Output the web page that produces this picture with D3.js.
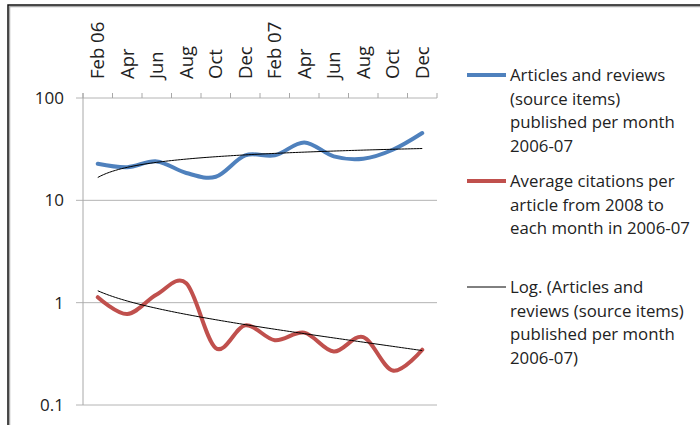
<!DOCTYPE html>
<html>
<head>
<meta charset="utf-8">
<script src="https://cdn.jsdelivr.net/npm/d3@7"></script>
<style>
  body { margin: 0; background: #fff; }
  text { font-family: "Open Sans", "Noto Sans", sans-serif; fill: #222; }
</style>
</head>
<body>
<div id="chart"></div>
<script>
var width = 700,
  height = 425;

// bimonthly categories, 2006-07
var months = ["Feb 06", "Apr", "Jun", "Aug", "Oct", "Dec", "Feb 07", "Apr", "Jun", "Aug", "Oct", "Dec"];
var articles = [22.8, 21.1, 24, 18.5, 17, 27.5, 27.5, 36.8, 26.9, 25.5, 31.2, 45.5];
var citations = [1.13, 0.774, 1.2, 1.55, 0.36, 0.6, 0.43, 0.51, 0.333, 0.461, 0.217, 0.347];
var yTicks = [0.1, 1, 10, 100];

var legendItems = [
  { color: "#4f81bd", w: 4, lines: ["Articles and reviews", "(source items)", "published per month", "2006-07"] },
  { color: "#c0504d", w: 4, lines: ["Average citations per", "article from 2008 to", "each month in 2006-07"] },
  { color: "#000", w: 1, lines: ["Log. (Articles and", "reviews (source items)", "published per month", "2006-07)"] }
];

var svg = d3.select("#chart").append("svg")
  .attr("width", width)
  .attr("height", height);

svg.append("rect")
  .attr("width", width)
  .attr("height", height)
  .attr("fill", "#fff");

// chart-area frame (only top and left edges show)
svg.append("path")
  .attr("d", "M9.5,425V6.5H700")
  .attr("fill", "none")
  .attr("stroke", "#aaa")
  .attr("stroke-width", 1.5);
svg.append("path")
  .attr("d", "M8,425V5H700")
  .attr("fill", "none")
  .attr("stroke", "#111")
  .attr("stroke-width", 1.5);

var x = d3.scaleBand()
  .domain(d3.range(months.length))
  .range([83, 437]);

var y = d3.scaleLog()
  .domain([0.1, 100])
  .range([405, 98]);

var cx = function (i) { return x(i) + x.bandwidth() / 2; };

// gridlines
svg.append("g")
  .selectAll("line")
  .data(yTicks)
  .enter().append("line")
    .attr("x1", 76)
    .attr("x2", 437)
    .attr("y1", function (d) { return y(d); })
    .attr("y2", function (d) { return y(d); })
    .attr("stroke", "#b4b4b4")
    .attr("stroke-width", 1);

// vertical axis line
svg.append("line")
  .attr("x1", 83).attr("x2", 83)
  .attr("y1", 93).attr("y2", 405)
  .attr("stroke", "#a8a8a8");

// category ticks, pointing up from the top axis
svg.append("g")
  .selectAll("line")
  .data(d3.range(months.length + 1))
  .enter().append("line")
    .attr("x1", function (i) { return x.step() * i + 83; })
    .attr("x2", function (i) { return x.step() * i + 83; })
    .attr("y1", 93)
    .attr("y2", 98)
    .attr("stroke", "#a8a8a8");

// y tick labels
svg.append("g")
  .selectAll("text")
  .data(yTicks)
  .enter().append("text")
    .attr("x", 64)
    .attr("y", function (d) { return y(d); })
    .attr("dy", "0.35em")
    .attr("text-anchor", "end")
    .style("font-size", "17px")
    .text(function (d) { return d; });

// rotated month labels
svg.append("g")
  .selectAll("text")
  .data(months)
  .enter().append("text")
    .attr("transform", function (d, i) { return "translate(" + cx(i) + ",79) rotate(-90)"; })
    .attr("dy", "0.35em")
    .attr("text-anchor", "start")
    .style("font-size", "18.5px")
    .text(function (d) { return d; });

// logarithmic trendlines, y = a*ln(n) + b
function logFit(vals) {
  var L = vals.map(function (v, i) { return Math.log(i + 1); });
  var lm = d3.mean(L), vm = d3.mean(vals);
  var sxy = d3.sum(vals, function (v, i) { return (L[i] - lm) * (v - vm); });
  var sxx = d3.sum(L, function (l) { return (l - lm) * (l - lm); });
  var a = sxy / sxx;
  return { a: a, b: vm - a * lm };
}

var nx = d3.scaleLinear().domain([1, months.length]).range([cx(0), cx(months.length - 1)]);

var series = [
  { vals: articles, color: "#4f81bd" },
  { vals: citations, color: "#c0504d" }
];

var smooth = d3.line()
  .x(function (d, i) { return cx(i); })
  .y(function (d) { return y(d); })
  .curve(d3.curveCardinal.tension(0));

series.forEach(function (s) {
  svg.append("path")
    .datum(s.vals)
    .attr("d", smooth)
    .attr("fill", "none")
    .attr("stroke", s.color)
    .attr("stroke-width", 4)
    .attr("stroke-linecap", "round");
});

series.forEach(function (s) {
  var f = logFit(s.vals);
  var pts = d3.range(1, months.length + 0.001, 0.1);
  svg.append("path")
    .datum(pts)
    .attr("d", d3.line()
      .x(function (n) { return nx(n); })
      .y(function (n) { return y(f.a * Math.log(n) + f.b); }))
    .attr("fill", "none")
    .attr("stroke", "#000")
    .attr("stroke-width", 1);
});

// legend
var legendTops = [75, 181, 287];
var lg = svg.append("g");
legendItems.forEach(function (item, k) {
  var top = legendTops[k];
  lg.append("line")
    .attr("x1", 467).attr("x2", 506)
    .attr("y1", top).attr("y2", top)
    .attr("stroke", item.color)
    .attr("stroke-width", item.w);
  item.lines.forEach(function (t, j) {
    lg.append("text")
      .attr("x", 510)
      .attr("y", top + j * 23.7)
      .attr("dy", "0.35em")
      .style("font-size", "16.8px")
      .text(t);
  });
});
</script>
</body>
</html>
